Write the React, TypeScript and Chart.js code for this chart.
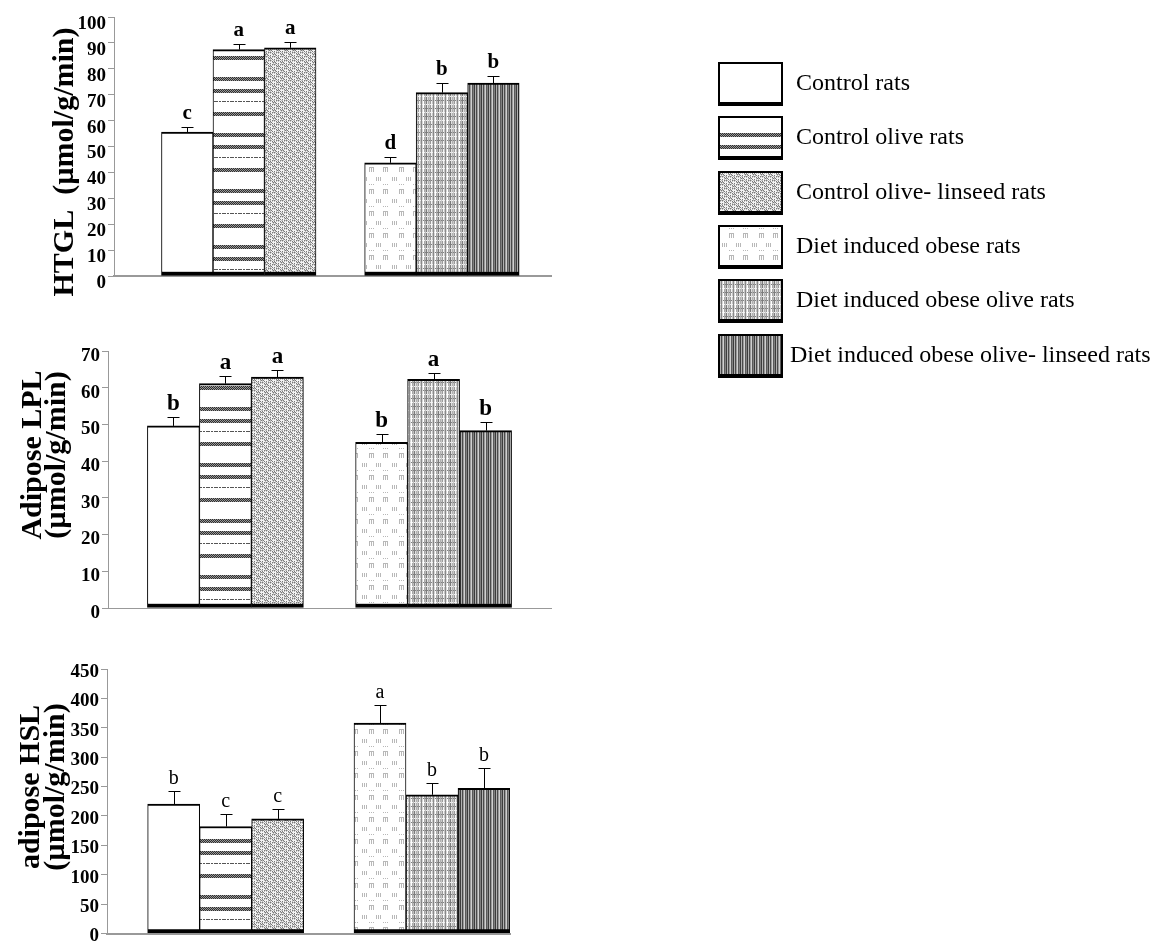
import React, { useEffect, useRef } from "react";
import { Chart, registerables } from "chart.js";

Chart.register(...registerables);

// ---------- data ----------
const seriesNames = [
  "Control rats",
  "Control olive rats",
  "Control olive- linseed rats",
  "Diet induced obese rats",
  "Diet induced obese olive rats",
  "Diet induced obese olive- linseed rats",
];
const groupOfSeries = [1, 1, 1, 2, 2, 2];

const htglValues = [55.6, 87.4, 88.1, 43.7, 70.8, 74.5];
const htglErrors = [2.0, 2.2, 2.3, 2.3, 3.9, 2.7];
const htglLetters = ["c", "a", "a", "d", "b", "b"];
const htglTicks = [0, 10, 20, 30, 40, 50, 60, 70, 80, 90, 100];
const htglTitle = ["HTGL  (µmol/g/min)"];

const lplValues = [49.6, 61.1, 62.9, 45.1, 62.3, 48.3];
const lplErrors = [2.3, 2.0, 1.8, 2.3, 1.8, 2.3];
const lplLetters = ["b", "a", "a", "b", "a", "b"];
const lplTicks = [0, 10, 20, 30, 40, 50, 60, 70];
const lplTitle = ["Adipose LPL", "(µmol/g/min)"];

const hslValues = [220, 182, 195, 358, 236, 247];
const hslErrors = [22, 22, 17, 31, 20, 34];
const hslLetters = ["b", "c", "c", "a", "b", "b"];
const hslTicks = [0, 50, 100, 150, 200, 250, 300, 350, 400, 450];
const hslTitle = ["adipose HSL", "(µmol/g/min)"];

// ---------- patterns ----------
function tile(w: number, h: number, draw: (ctx: CanvasRenderingContext2D) => void) {
  const c = document.createElement("canvas");
  c.width = w;
  c.height = h;
  const ctx = c.getContext("2d") as CanvasRenderingContext2D;
  draw(ctx);
  return ctx.createPattern(c, "repeat") as CanvasPattern;
}
function fromRows(rows: string[], map: Record<string, string>) {
  return tile(rows[0].length, rows.length, (ctx) => {
    rows.forEach((r, y) => {
      for (let x = 0; x < r.length; x++) {
        ctx.fillStyle = map[r[x]];
        ctx.fillRect(x, y, 1, 1);
      }
    });
  });
}
function makePatterns(): (string | CanvasPattern)[] {
  const olive = tile(8, 56, (ctx) => {
    ctx.fillStyle = "#ffffff";
    ctx.fillRect(0, 0, 8, 56);
    [0, 21, 33].forEach((b) => {
      for (let y = b; y < b + 4; y++)
        for (let x = 0; x < 8; x++) {
          ctx.fillStyle = (x + y) % 2 ? "#2e2e2e" : "#9a9a9a";
          ctx.fillRect(x, y, 1, 1);
        }
    });
    for (let x = 0; x < 8; x++) {
      if (x % 3 !== 2) {
        ctx.fillStyle = "#555555";
        ctx.fillRect(x, 45, 1, 1);
      }
    }
  });
  const oliveLinseed = fromRows(
    [
      "#-#-.--.",
      "-.-.#.#.",
      "....-#-#",
      "#.#.-.-.",
      ".--.#-#-",
      "#.#.-.-.",
      "-#-#....",
      ".-.-#.#.",
    ],
    { "#": "#7a7a7a", "-": "#bcbcbc", ".": "#f4f4f4" }
  );
  const obese = tile(30, 22, (ctx) => {
    ctx.fillStyle = "#ffffff";
    ctx.fillRect(0, 0, 30, 22);
    ctx.fillStyle = "#b8b8b8";
    [2, 4, 6, 16, 18, 20].forEach((x) => ctx.fillRect(x, 1, 1, 4));
    [9, 11, 13, 23, 25, 27].forEach((x) => ctx.fillRect(x, 8, 1, 1));
    [9, 11, 13, 23, 25, 27].forEach((x) => ctx.fillRect(x, 14, 1, 4));
    ctx.fillRect(9, 13, 5, 1);
    ctx.fillRect(23, 13, 5, 1);
  });
  const obeseOliveCols = ["#c4c4c4", "#8a8a8a", "#d6d6d6", "#ffffff", "#a8a8a8", "#bdbdbd", "#7c7c7c", "#e0e0e0", "#b0b0b0", "#c8c8c8", "#9a9a9a", "#f4f4f4"];
  const obeseOlive = tile(12, 8, (ctx) => {
    obeseOliveCols.forEach((c, x) => {
      ctx.fillStyle = c;
      ctx.fillRect(x, 0, 1, 8);
    });
    for (let x = 0; x < 12; x += 2) {
      ctx.fillStyle = "#f0f0f0";
      ctx.fillRect(x, 0, 1, 1);
      ctx.fillStyle = "#808080";
      ctx.fillRect(x + 1, 4, 1, 1);
    }
  });
  const obeseLinCols = ["#4a4a4a", "#9a9a9a", "#d0d0d0", "#5a5a5a", "#808080", "#3c3c3c", "#b0b0b0"];
  const obeseLinseed = tile(7, 1, (ctx) => {
    obeseLinCols.forEach((c, x) => {
      ctx.fillStyle = c;
      ctx.fillRect(x, 0, 1, 1);
    });
  });
  return ["#ffffff", olive, oliveLinseed, obese, obeseOlive, obeseLinseed];
}

// ---------- panels (layout) ----------
interface Panel {
  values: number[];
  errors: number[];
  letters: string[];
  ticks: number[];
  title: string[];
  canvasTop: number;
  width: number;
  height: number;
  area: { left: number; right: number; top: number; bottom: number };
  xRange: [number, number];
  barThickness: number;
  labelOffset: number;
  letterFont: string;
  letterGap: number;
  titleBaselines: number[];
  titleCenterY: number;
  xBorder: number;
  legend: boolean;
}

const panels: Panel[] = [
  {
    values: htglValues, errors: htglErrors, letters: htglLetters, ticks: htglTicks, title: htglTitle,
    canvasTop: 0, width: 1152, height: 390,
    area: { left: 114, right: 551, top: 17, bottom: 276 },
    xRange: [0.386, 2.537], barThickness: 51.5, labelOffset: 7,
    letterFont: 'bold 21px "Liberation Serif"', letterGap: 9,
    titleBaselines: [73], titleCenterY: 162, xBorder: 2, legend: true,
  },
  {
    values: lplValues, errors: lplErrors, letters: lplLetters, ticks: lplTicks, title: lplTitle,
    canvasTop: 330, width: 600, height: 290,
    area: { left: 108, right: 551, top: 21, bottom: 278 },
    xRange: [0.436, 2.564], barThickness: 52, labelOffset: 5,
    letterFont: 'bold 23px "Liberation Serif"', letterGap: 8,
    titleBaselines: [41, 65], titleCenterY: 125, xBorder: 1, legend: false,
  },
  {
    values: hslValues, errors: hslErrors, letters: hslLetters, ticks: hslTicks, title: hslTitle,
    canvasTop: 650, width: 600, height: 295,
    area: { left: 107, right: 510, top: 19, bottom: 285 },
    xRange: [0.425, 2.378], barThickness: 52, labelOffset: 3,
    letterFont: '20px "Liberation Serif"', letterGap: 8,
    titleBaselines: [39, 64], titleCenterY: 137, xBorder: 2, legend: false,
  },
];

function annotPlugin(p: Panel) {
  return {
    id: "annot",
    afterDatasetsDraw(chart: any) {
      const ctx: CanvasRenderingContext2D = chart.ctx;
      const y = chart.scales.y;
      ctx.save();
      chart.data.datasets.forEach((ds: any, i: number) => {
        const el = chart.getDatasetMeta(i).data[0];
        if (!el) return;
        const v = p.values[i];
        const e = p.errors[i];
        const yb = y.getPixelForValue(v);
        const yt = Math.round(y.getPixelForValue(v + e)) + 0.5;
        const x = Math.round(el.x) + 0.5;
        ctx.strokeStyle = "#000";
        ctx.lineWidth = 1;
        ctx.beginPath();
        ctx.moveTo(x, yb);
        ctx.lineTo(x, yt);
        ctx.moveTo(x - 6, yt);
        ctx.lineTo(x + 6, yt);
        ctx.stroke();
        ctx.fillStyle = "#000";
        ctx.font = p.letterFont;
        ctx.textAlign = "center";
        ctx.textBaseline = "alphabetic";
        ctx.fillText(p.letters[i], el.x, yt - p.letterGap);
      });
      ctx.restore();
    },
    afterDraw(chart: any) {
      const ctx: CanvasRenderingContext2D = chart.ctx;
      ctx.save();
      ctx.fillStyle = "#000";
      ctx.font = 'bold 30px "Liberation Serif"';
      ctx.textAlign = "center";
      ctx.textBaseline = "alphabetic";
      p.title.forEach((line, k) => {
        ctx.save();
        ctx.translate(p.titleBaselines[k], p.titleCenterY);
        ctx.rotate(-Math.PI / 2);
        ctx.fillText(line, 0, 0);
        ctx.restore();
      });
      if (p.legend) {
        chart.data.datasets.forEach((ds: any, i: number) => {
          const bx = 718;
          const by = Math.round(62 + i * 54.3);
          const bw = 65;
          const bh = 44;
          ctx.fillStyle = "#000";
          ctx.fillRect(bx, by, bw, bh);
          ctx.fillStyle = ds.backgroundColor;
          ctx.fillRect(bx + 2, by + 2, bw - 4, bh - 6);
          ctx.fillStyle = "#000";
          ctx.font = '24px "Liberation Serif"';
          ctx.textAlign = "left";
          ctx.textBaseline = "middle";
          ctx.fillText(ds.label, i === 5 ? 790 : 796, by + bh / 2);
        });
      }
      ctx.restore();
    },
  };
}

function buildChart(canvas: HTMLCanvasElement, p: Panel, patterns: (string | CanvasPattern)[]) {
  const datasets = seriesNames.map((name, i) => ({
    label: name,
    data: [{ x: groupOfSeries[i], y: p.values[i] }],
    backgroundColor: patterns[i],
    borderColor: "#000000",
    borderWidth: { top: 2, left: 1, right: 1, bottom: 4 },
    borderSkipped: false,
    stack: "slot" + (i % 3),
    barThickness: p.barThickness,
  }));
  const tickFont = { family: "Liberation Serif", size: 19, weight: "bold" as const, lineHeight: 1 };
  return new Chart(canvas, {
    type: "bar",
    data: { datasets } as any,
    options: {
      responsive: false,
      animation: false,
      devicePixelRatio: 1,
      layout: {
        padding: {
          left: 0,
          top: p.area.top,
          right: p.width - p.area.right,
          bottom: p.height - p.area.bottom,
        },
      },
      plugins: { legend: { display: false }, tooltip: { enabled: false } },
      scales: {
        x: {
          type: "linear",
          min: p.xRange[0],
          max: p.xRange[1],
          offset: false,
          stacked: true,
          grid: { display: false, offset: false },
          ticks: { display: false },
          border: { display: true, color: "#999999", width: p.xBorder },
          afterFit: (s: any) => {
            s.height = 0;
          },
        },
        y: {
          min: p.ticks[0],
          max: p.ticks[p.ticks.length - 1],
          afterBuildTicks: (s: any) => {
            s.ticks = p.ticks.map((v) => ({ value: v }));
          },
          afterFit: (s: any) => {
            s.width = p.area.left;
          },
          grid: { drawOnChartArea: false, drawTicks: true, tickLength: 6, color: "#999999" },
          border: { display: true, color: "#999999", width: 1 },
          ticks: { color: "#000", padding: 2, labelOffset: p.labelOffset, font: tickFont },
        },
      } as any,
    },
    plugins: [annotPlugin(p)],
  });
}

function ChartPanel({ p, patterns }: { p: Panel; patterns: (string | CanvasPattern)[] | null }) {
  const ref = useRef<HTMLCanvasElement>(null);
  useEffect(() => {
    if (!ref.current || !patterns) return;
    const chart = buildChart(ref.current, p, patterns);
    return () => chart.destroy();
  }, [p, patterns]);
  return (
    <canvas
      ref={ref}
      width={p.width}
      height={p.height}
      style={{ position: "absolute", left: 0, top: p.canvasTop, width: p.width, height: p.height }}
    />
  );
}

export default function App() {
  const [patterns, setPatterns] = React.useState<(string | CanvasPattern)[] | null>(null);
  useEffect(() => {
    setPatterns(makePatterns());
  }, []);
  return (
    <div style={{ position: "absolute", left: 0, top: 0, width: 1152, height: 945, background: "#ffffff", overflow: "hidden" }}>
      {panels.map((p, i) => (
        <ChartPanel key={i} p={p} patterns={patterns} />
      ))}
    </div>
  );
}
